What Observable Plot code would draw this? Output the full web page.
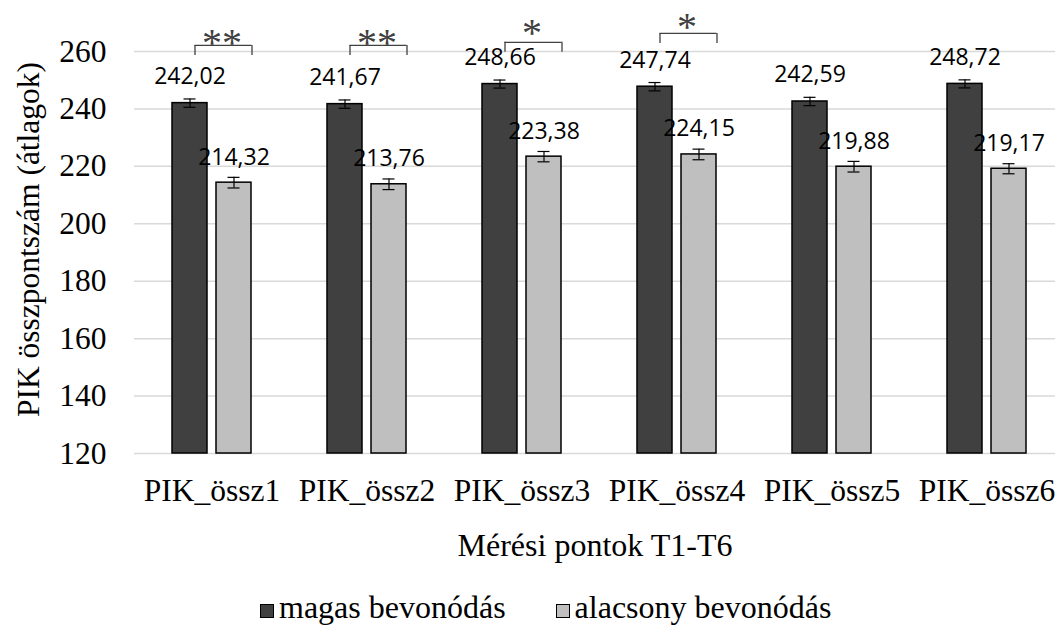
<!DOCTYPE html>
<html><head><meta charset="utf-8">
<script src="https://cdn.jsdelivr.net/npm/d3@7"></script>
<script src="https://cdn.jsdelivr.net/npm/@observablehq/plot@0.6"></script>
<style>
body{margin:0;background:#fff;}
#wrap{position:relative;width:1055px;height:628px;overflow:hidden;}
#wrap svg{display:block;overflow:hidden;}
.legend{position:absolute;left:260px;top:589px;height:36px;line-height:36px;font-family:"Liberation Serif",serif;font-size:32px;color:#000;white-space:nowrap;}
.sw{width:12px;height:12px;border:1px solid #000;display:inline-block;vertical-align:baseline;margin-right:5px;}
</style></head><body><div id="wrap"></div>
<script>
const categories = ["PIK_össz1","PIK_össz2","PIK_össz3","PIK_össz4","PIK_össz5","PIK_össz6"];
const seriesNames = ["magas bevonódás","alacsony bevonódás"];
const magas = [242.02,241.67,248.66,247.74,242.59,248.72];
const alacsony = [214.32,213.76,223.38,224.15,219.88,219.17];
const magasSE = [1.45,1.45,1.4,1.45,1.45,1.4];
const alacsonySE = [1.85,1.85,1.8,1.85,1.85,1.75];
const yTicks = [120,140,160,180,200,220,240,260];
const sigCats = ["PIK_össz1","PIK_össz2","PIK_össz3","PIK_össz4"];
const sigLabels = ["**","**","*","*"];
const sigBracketY = [262.1,262.1,263.2,266.3];
const sigStarY = [265.3,265.3,268.9,270.8];
const yTitle = "PIK összpontszám (átlagok)";
const xTitle = "Mérési pontok T1-T6";
const colors = ["#404040","#bfbfbf"];

const yMin = yTicks[0];
const darkRows = categories.map((c,i)=>({cat:c, value:magas[i], se:magasSE[i]}));
const lightRows = categories.map((c,i)=>({cat:c, value:alacsony[i], se:alacsonySE[i]}));
const sig = sigCats.map((c,i)=>({cat:c, label:sigLabels[i], top:sigBracketY[i], star:sigStarY[i]}));
const fmt = v => v.toFixed(2).replace(".", ",");
const labelFont = {fontFamily:"'Open Sans', sans-serif", fontSize:23, fill:"#000"};
const serif = "'Liberation Serif', serif";

const chart = Plot.plot({
  width: 1055, height: 580,
  marginLeft: 134, marginRight: 0, marginTop: 51, marginBottom: 127,
  style: {fontFamily: serif, fontSize: "31.5px", color: "#000", background: "#fff"},
  x: {domain: categories, range: [134, 1064], padding: 0, label: null},
  y: {domain: [yMin, yTicks[yTicks.length-1]], label: null},
  marks: [
    Plot.gridY(yTicks, {stroke: "#d9d9d9", strokeOpacity: 1, strokeWidth: 1.5}),
    Plot.axisY(yTicks, {tickSize: 0, tickPadding: 28, label: null, fontSize: 31.5, fontFamily: serif}),
    Plot.axisX({tickSize: 0, tickPadding: 25, label: null, fontSize: 31.5, fontFamily: serif}),
    Plot.barY(darkRows, {x: "cat", y1: yMin, y2: "value", insetLeft: 38, insetRight: 82, fill: colors[0], stroke: "#000", strokeWidth: 1.5}),
    Plot.barY(lightRows, {x: "cat", y1: yMin, y2: "value", insetLeft: 82, insetRight: 38, fill: colors[1], stroke: "#000", strokeWidth: 1.5}),
    // error bars
    Plot.ruleX(darkRows, {x: "cat", y1: d=>d.value-d.se, y2: d=>d.value+d.se, dx: -22, stroke: "#000", strokeWidth: 1.2}),
    Plot.ruleX(lightRows, {x: "cat", y1: d=>d.value-d.se, y2: d=>d.value+d.se, dx: 22, stroke: "#000", strokeWidth: 1.2}),
    Plot.tickY(darkRows, {x: "cat", y: d=>d.value+d.se, insetLeft: 49.5, insetRight: 93.5, stroke: "#000", strokeWidth: 1.2}),
    Plot.tickY(darkRows, {x: "cat", y: d=>d.value-d.se, insetLeft: 49.5, insetRight: 93.5, stroke: "#000", strokeWidth: 1.2}),
    Plot.tickY(lightRows, {x: "cat", y: d=>d.value+d.se, insetLeft: 93.5, insetRight: 49.5, stroke: "#000", strokeWidth: 1.2}),
    Plot.tickY(lightRows, {x: "cat", y: d=>d.value-d.se, insetLeft: 93.5, insetRight: 49.5, stroke: "#000", strokeWidth: 1.2}),
    // value labels
    Plot.text(darkRows, {x: "cat", y: "value", text: d=>fmt(d.value), dx: -22, dy: -19, lineAnchor: "bottom", ...labelFont}),
    Plot.text(lightRows, {x: "cat", y: "value", text: d=>fmt(d.value), dx: 22, dy: -18, lineAnchor: "bottom", ...labelFont}),
    // significance brackets
    Plot.tickY(sig, {x: "cat", y: "top", insetLeft: 60.5, insetRight: 37.5, stroke: "#404040", strokeWidth: 1.3}),
    Plot.ruleX(sig, {x: "cat", y1: "top", y2: d=>d.top-3.5, dx: -17, stroke: "#404040", strokeWidth: 1.3}),
    Plot.ruleX(sig, {x: "cat", y1: "top", y2: d=>d.top-3.5, dx: 40, stroke: "#404040", strokeWidth: 1.3}),
    Plot.text(sig, {x: "cat", y: "star", text: "label", dx: 10, dy: 7, fontSize: 40, fill: "#404040", fontFamily: serif}),
    // axis titles
    Plot.text([yTitle], {frameAnchor: "left", textAnchor: "middle", dx: -106, dy: -13, rotate: -90, fontSize: 31.5, fill: "#000", fontFamily: serif}),
    Plot.text([xTitle], {frameAnchor: "bottom", dy: 102, fontSize: 32, fill: "#000", fontFamily: serif})
  ]
});
const wrap = document.getElementById("wrap");
wrap.appendChild(chart);
const leg = document.createElement("div");
leg.className = "legend";
leg.innerHTML = seriesNames.map((n,i)=>`<span class="sw" style="background:${colors[i]}"></span>${n}`).join('<span style="display:inline-block;width:50px"></span>');
wrap.appendChild(leg);
</script></body></html>
